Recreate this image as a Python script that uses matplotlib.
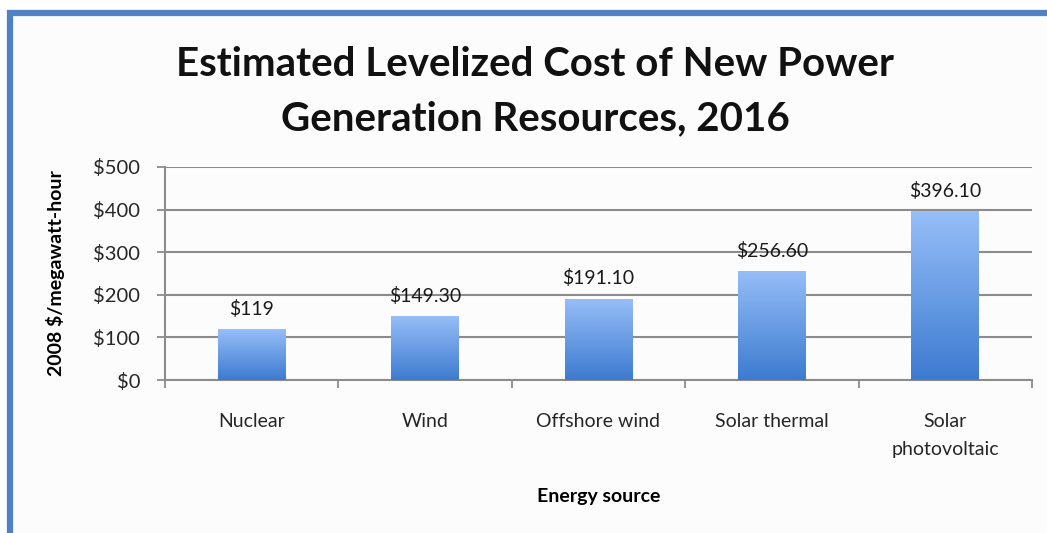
import numpy as np
import matplotlib.pyplot as plt
from matplotlib.colors import LinearSegmentedColormap
from matplotlib.patches import Rectangle
from matplotlib.ticker import FuncFormatter

sources = ['Nuclear', 'Wind', 'Offshore wind', 'Solar thermal', 'Solar\nphotovoltaic']
costs = [119, 149.3, 191.1, 256.6, 396.1]
value_labels = ['$119', '$149.30', '$191.10', '$256.60', '$396.10']
y_ticks = [0, 100, 200, 300, 400, 500]

plt.rcParams['font.family'] = ['Lato', 'DejaVu Sans']

fig = plt.figure(figsize=(10.47, 5.33), dpi=100)
fig.patch.set_facecolor('white')
# panel background with blue frame on top/left (right/bottom run off the image)
frame = Rectangle((10 / 1047, -0.2), 1.2, 1.2 - 13 / 533, transform=fig.transFigure,
                  facecolor='#fcfcfc', edgecolor='#4f81c4', linewidth=4.5, zorder=-1)
fig.add_artist(frame)

ax = fig.add_axes([165 / 1047, 1 - 380 / 533, (1032 - 165) / 1047, (380 - 167) / 533])
ax.set_facecolor('#fcfcfc')

grad = LinearSegmentedColormap.from_list('bar', ['#3d7bd0', '#96bef8'])
x = np.arange(len(sources))
bars = ax.bar(x, costs, width=0.39, color='none', zorder=3)
g = np.linspace(0, 1, 256).reshape(-1, 1)
for b in bars:
    x0, w, h = b.get_x(), b.get_width(), b.get_height()
    im = ax.imshow(g, cmap=grad, origin='lower', aspect='auto',
                   extent=[x0, x0 + w, 0, h], zorder=3)
    im.set_clip_path(b)

for xi, c, lab in zip(x, costs, value_labels):
    ax.annotate(lab, (xi, c), xytext=(0, 8), textcoords='offset points',
                ha='center', va='bottom', fontsize=14, color='#1a1a1a')

ax.set_xlim(-0.5, len(sources) - 0.5)
ax.set_ylim(0, 500)
ax.set_yticks(y_ticks)
ax.yaxis.set_major_formatter(FuncFormatter(lambda v, p: f'${v:.0f}'))
ax.yaxis.grid(True, color='#8c8c8c', linewidth=1.5, zorder=1)
ax.set_axisbelow(True)

ax.set_xticks(np.arange(-0.5, len(sources), 1.0))
ax.set_xticklabels([])
ax.set_xticks(x, minor=True)
ax.set_xticklabels(sources, minor=True, fontsize=14, color='#262626')
for t in ax.get_xticklabels(minor=True):
    t.set_linespacing(1.75)
ax.tick_params(axis='x', which='minor', length=0, pad=24)
ax.tick_params(axis='x', which='major', length=6, width=1.3, color='#8c8c8c', direction='out')
ax.tick_params(axis='y', length=6, width=1.3, color='#8c8c8c', labelsize=14.5, labelcolor='#262626', pad=12)

for s in ['top', 'right']:
    ax.spines[s].set_visible(False)
for s in ['left', 'bottom']:
    ax.spines[s].set_color('#8c8c8c')
    ax.spines[s].set_linewidth(1.5)

ax.set_xlabel('Energy source', fontsize=14, fontweight='bold', labelpad=22)
ax.set_ylabel('2008 $/megawatt-hour', fontsize=14, fontweight='bold', labelpad=20)

fig.text(0.511, 0.828, 'Estimated Levelized Cost of New Power\nGeneration Resources, 2016',
         ha='center', va='center', fontsize=29, fontweight='bold', linespacing=1.6, color='#111111')

fig.savefig('out.png', dpi=100, facecolor=fig.get_facecolor())
